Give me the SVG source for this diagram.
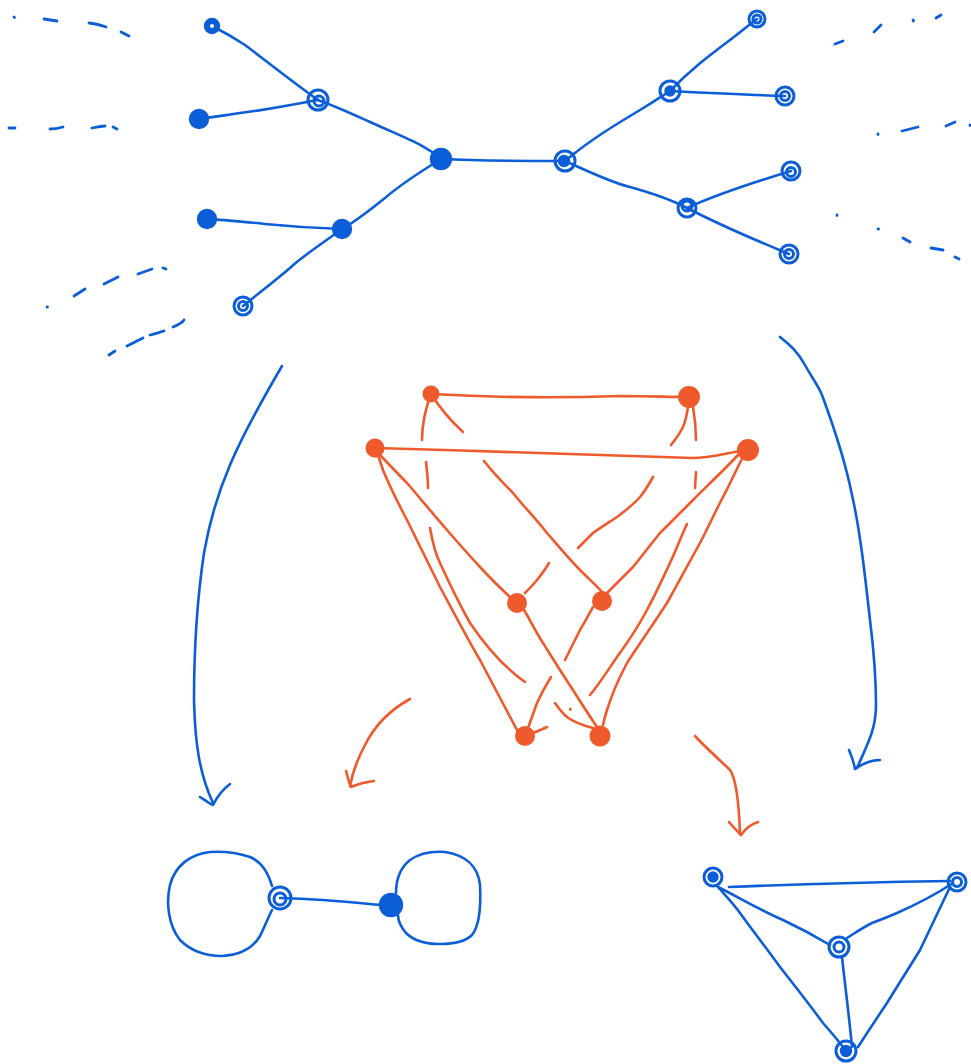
<svg xmlns="http://www.w3.org/2000/svg" width="971" height="1064" viewBox="0 0 971 1064">
<style>
.b{fill:none;stroke:#0b5ed7;stroke-width:2.6;stroke-linecap:round;stroke-linejoin:round}
.o{fill:none;stroke:#ef5a2c;stroke-width:2.6;stroke-linecap:round;stroke-linejoin:round}
.bf{fill:#0b5ed7;stroke:#0b5ed7;stroke-width:2.4}
.br{fill:none;stroke:#0b5ed7;stroke-width:3}
.of{fill:#ef5a2c;stroke:#ef5a2c;stroke-width:2}
.ds{fill:none;stroke:#0b5ed7;stroke-width:2.8;stroke-linecap:round}
</style>
<rect width="971" height="1064" fill="#ffffff"/>

<g id="connectors">
<path class="b" d="M441,159 C480,161 520,161 565,161"/>
<path class="b" d="M441,159 C425,145 410,140 370,122 C350,113 335,106 318,100"/>
<path class="b" d="M318,100 C290,80 265,60 245,45 C230,35 220,30 212,26"/>
<path class="b" d="M318,100 C290,105 265,110 240,113 C220,116 208,118 199,119"/>
<path class="b" d="M441,159 C420,172 400,185 385,198 C370,210 355,222 342,229"/>
<path class="b" d="M342,229 C310,228 285,226 265,224 C240,221 222,220 207,219"/>
<path class="b" d="M342,229 C320,245 300,258 290,268 C270,285 255,296 243,306"/>
<path class="b" d="M565,161 C590,140 615,125 640,110 C655,101 662,96 670,91"/>
<path class="b" d="M670,91 C690,70 710,55 730,40 C743,30 750,24 757,19"/>
<path class="b" d="M670,91 C710,93 750,95 785,96"/>
<path class="b" d="M565,161 C590,172 610,182 630,187 C655,194 672,200 687,208"/>
<path class="b" d="M687,208 C720,193 755,182 791,171"/>
<path class="b" d="M687,208 C720,225 755,240 789,254"/>

<path class="ds" d="M14,17 l0.5,0.5 M44,19 L57,21 M89,23 C96,24 101,25 106,27 M121,32 L129,36"/>
<path class="ds" d="M9,128 L15,128 M50,129 C55,129 60,128 63,127 M92,128 C97,127 102,126 105,126 M113,127 L117,129"/>
<path class="ds" d="M47,307 l0.5,0 M74,296 L85,289 M104,284 L118,277 M138,274 L152,269 M163,268 L166,269"/>
<path class="ds" d="M109,355 L115,351 M127,346 L143,338 M150,335 C155,334 160,332 164,331 M173,327 C178,325 182,323 184,320"/>
<path class="ds" d="M835,44 L843,41 M874,32 L881,25 M913,20 l0.5,1 M936,18 L941,15"/>
<path class="ds" d="M878,134 l0,0.5 M902,131 L918,127 M946,126 L955,122 M970,125 l0,0.5"/>
<path class="ds" d="M837,215 l0,0.5 M878,229 l0.5,0 M903,238 L910,242 M931,248 L943,250 M955,257 L959,259"/>

<path class="b" d="M282,366 C265,395 245,430 230,465 C215,500 208,530 204,553 C197,600 194,650 194,700 C195,745 200,775 213,803"/>
<path class="b" d="M200,797 C205,800 210,804 213,805 C217,797 222,790 230,784"/>
<path class="b" d="M780,337 C790,345 798,352 805,365 C812,378 818,385 822,395 C835,430 845,460 852,495 C860,530 865,575 870,620 C875,660 876,690 876,705 C876,730 867,745 857,768"/>
<path class="b" d="M849,750 C852,757 854,763 855,769 C862,764 870,760 880,760"/>

<path class="o" d="M410,699 C390,710 375,725 365,745 C357,760 352,775 350,786"/>
<path class="o" d="M346,771 C348,778 349,783 351,787 C358,784 366,782 374,781"/>
<path class="o" d="M695,736 C708,750 720,760 730,770 C737,780 739,805 740,834"/>
<path class="o" d="M729,822 C734,828 738,832 741,835 C746,828 751,824 758,822"/>

<path class="o" d="M431,394 C500,398 560,398 620,396 C650,396 670,397 689,397"/>
<path class="o" d="M375,448 C480,451 580,454 693,458 C710,458 730,452 748,450"/>
<path class="o" d="M431,394 C440,408 452,422 463,432"/>
<path class="o" d="M484,461 C495,475 505,485 513,493 C525,508 537,520 547,533 C560,548 570,560 580,570 C590,580 598,587 603,593"/>
<path class="o" d="M431,394 C425,410 422,425 422,440"/>
<path class="o" d="M426,462 C427,470 428,480 428,488"/>
<path class="o" d="M430,528 C433,545 436,555 440,563 C450,585 460,605 470,623 C485,645 505,668 525,682"/>
<path class="o" d="M555,703 C560,710 563,714 567,717 C575,723 585,726 593,728"/>
<path class="o" d="M688,407 C686,420 683,427 683,427 C679,435 675,440 671,445"/>
<path class="o" d="M653,477 C648,486 645,491 640,497 C633,505 625,511 617,517 C608,523 600,528 593,533 C586,540 582,544 578,548"/>
<path class="o" d="M549,563 C545,570 541,575 537,580 C533,585 529,589 525,593"/>
<path class="o" d="M693,407 C695,418 696,430 696,440"/>
<path class="o" d="M696,472 L695,488"/>
<path class="o" d="M687,524 C681,537 676,550 670,563 C662,580 655,595 647,610 C638,627 628,642 617,657 C608,670 600,683 590,695"/>
<path class="o" d="M570,709 l0.5,0.5"/>
<path class="o" d="M533,733 C538,731 543,729 547,727"/>
<path class="o" d="M377,452 C387,462 397,473 407,483 C420,498 433,514 447,530 C458,543 469,555 480,567 C490,578 500,588 510,597"/>
<path class="o" d="M377,452 C379,458 381,464 383,470 C390,487 398,503 407,520 C418,542 429,565 440,587 C453,611 466,636 480,660 C492,683 505,707 517,730"/>
<path class="o" d="M528,728 C531,720 534,711 537,703 C541,694 546,685 551,677"/>
<path class="o" d="M565,660 C570,650 575,640 580,630 C585,622 589,614 593,607"/>
<path class="o" d="M523,608 C530,620 536,632 543,643 C553,659 563,675 573,690 C581,703 589,715 597,727"/>
<path class="o" d="M740,453 C725,469 709,484 693,500 C682,511 671,522 660,533 C651,544 642,556 633,567 C624,576 615,585 607,593"/>
<path class="o" d="M743,457 C736,470 730,484 723,497 C715,512 708,528 700,543 C689,563 678,583 667,603 C654,623 640,643 627,663 C619,678 612,694 607,710 C605,716 604,720 603,725"/>

<path class="b" d="M280,898 C320,899 350,902 370,904 C378,905 385,905 391,905"/>
<path class="b" d="M272,886 C268,872 262,862 250,857 C238,853 225,851 210,852 C190,854 175,866 170,885 C166,902 168,925 180,940 C192,952 207,956 222,956 C240,955 253,948 260,936 C265,926 268,918 272,910"/>
<path class="b" d="M396,893 C396,880 400,868 410,860 C420,853 432,851 445,852 C465,855 478,866 480,885 C481,905 480,925 472,935 C465,942 452,944 440,944 C425,944 413,940 406,933 C400,926 398,920 398,915"/>

<path class="b" d="M729,887 C800,884 880,882 950,881"/>
<path class="b" d="M718,887 C740,898 760,910 783,920 C800,928 815,936 830,945"/>
<path class="b" d="M953,883 C935,895 915,905 897,913 C888,917 880,920 872,923 C862,928 855,933 847,938"/>
<path class="b" d="M718,887 C725,895 733,903 740,913 C753,931 767,949 780,967 C795,986 809,1004 823,1023 C830,1031 837,1039 843,1047"/>
<path class="b" d="M842,957 C845,985 849,1015 852,1047"/>
<path class="b" d="M950,887 C940,908 930,929 920,950 C909,968 898,985 887,1003 C877,1018 867,1033 858,1047"/>
</g>

<g id="t-root-l"><circle class="bf" cx="441" cy="159" r="10"/></g>
<g id="t-root-r"><circle class="br" cx="565" cy="161" r="10"/><circle class="bf" cx="564" cy="161" r="5"/></g>
<g id="t-l1"><circle class="br" cx="318" cy="100" r="10"/><circle class="br" cx="319" cy="101" r="5"/></g>
<g id="t-l1a"><circle class="bf" cx="212" cy="26" r="7"/><circle fill="#ffffff" cx="212" cy="26" r="2"/></g>
<g id="t-l1b"><circle class="bf" cx="199" cy="119" r="9"/></g>
<g id="t-l2"><circle class="bf" cx="342" cy="229" r="9"/></g>
<g id="t-l2a"><circle class="bf" cx="207" cy="219" r="9"/></g>
<g id="t-l2b"><circle class="br" cx="243" cy="306" r="9"/><circle class="br" cx="243" cy="306" r="4.5"/></g>
<g id="t-r1"><circle class="br" cx="670" cy="91" r="10"/><circle class="bf" cx="670" cy="91" r="4.5"/></g>
<g id="t-r1a"><circle class="br" cx="757" cy="19" r="8"/><circle class="br" cx="757" cy="19" r="4"/></g>
<g id="t-r1b"><circle class="br" cx="785" cy="96" r="9"/><circle class="br" cx="785" cy="96" r="4.5"/></g>
<g id="t-r2"><circle class="br" cx="687" cy="208" r="9"/><circle class="br" cx="687" cy="206" r="5"/></g>
<g id="t-r2a"><circle class="br" cx="791" cy="171" r="9"/><circle class="br" cx="791" cy="172" r="4.5"/></g>
<g id="t-r2b"><circle class="br" cx="789" cy="254" r="9"/><circle class="br" cx="789" cy="254" r="4.5"/></g>

<g id="o-a"><circle class="of" cx="431" cy="394" r="7.5"/></g>
<g id="o-b"><circle class="of" cx="689" cy="397" r="10"/></g>
<g id="o-c"><circle class="of" cx="375" cy="448" r="8.5"/></g>
<g id="o-d"><circle class="of" cx="748" cy="450" r="10"/></g>
<g id="o-e"><circle class="of" cx="517" cy="603" r="9"/></g>
<g id="o-f"><circle class="of" cx="602" cy="601" r="9"/></g>
<g id="o-g"><circle class="of" cx="525" cy="736" r="9"/></g>
<g id="o-h"><circle class="of" cx="600" cy="736" r="9.5"/></g>

<g id="p-1"><circle class="br" cx="280" cy="898" r="11"/><circle class="br" cx="280" cy="899" r="6"/></g>
<g id="p-2"><circle class="bf" cx="391" cy="905" r="11"/></g>

<g id="k-1"><circle class="br" cx="713" cy="877" r="9"/><circle class="bf" cx="713" cy="877" r="4.5"/></g>
<g id="k-2"><circle class="br" cx="957" cy="882" r="9"/><circle class="br" cx="957" cy="882" r="4.5"/></g>
<g id="k-3"><circle class="br" cx="839" cy="947" r="10"/><circle class="br" cx="839" cy="947" r="5"/></g>
<g id="k-4"><circle class="br" cx="846" cy="1051" r="10"/><circle class="bf" cx="846" cy="1051" r="5"/></g>
</svg>
